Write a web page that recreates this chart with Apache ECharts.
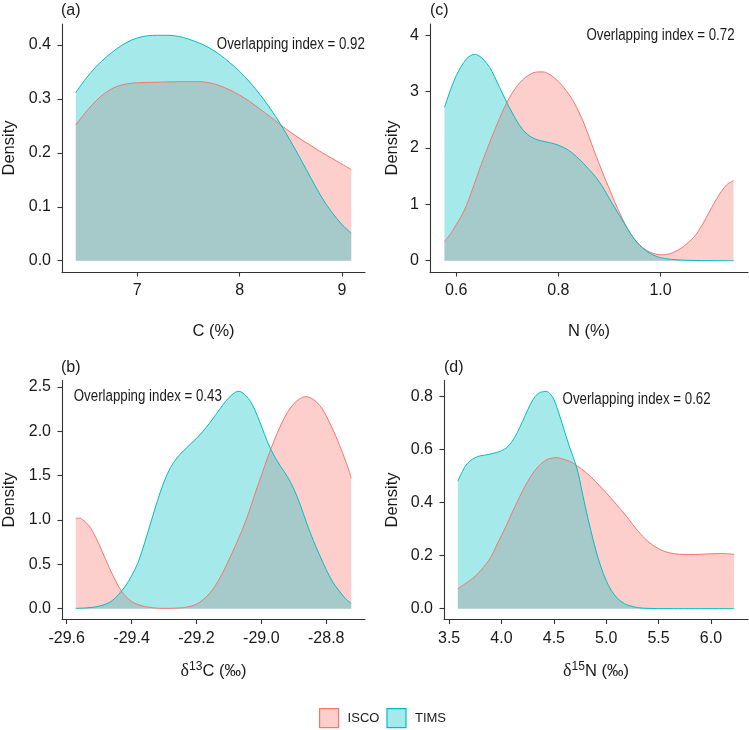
<!DOCTYPE html>
<html>
<head>
<meta charset="utf-8">
<script src="https://cdn.jsdelivr.net/npm/echarts@6/dist/echarts.min.js"></script>
<style>
html,body{margin:0;padding:0;background:#fff;}
#chart{width:749px;height:730px;}
</style>
</head>
<body>
<div id="chart"></div>
<script>
// ---------- DATA ----------
const seriesNames = ['ISCO', 'TIMS'];

// (a) C (%)
const A_ISCO = [[6.40,0.252],[6.5,0.276],[6.6,0.297],[6.7,0.313],[6.8,0.323],[6.9,0.328],[7.0,0.330],[7.2,0.331],[7.4,0.332],[7.6,0.332],[7.7,0.330],[7.8,0.325],[7.9,0.317],[8.0,0.307],[8.1,0.295],[8.2,0.281],[8.3,0.267],[8.4,0.252],[8.5,0.238],[8.6,0.225],[8.7,0.213],[8.8,0.201],[8.9,0.190],[9.0,0.179],[9.09,0.169]];
const A_TIMS = [[6.40,0.312],[6.5,0.338],[6.6,0.360],[6.7,0.378],[6.8,0.393],[6.9,0.405],[7.0,0.413],[7.1,0.417],[7.2,0.418],[7.3,0.418],[7.4,0.416],[7.5,0.411],[7.6,0.404],[7.7,0.395],[7.8,0.383],[7.9,0.368],[8.0,0.351],[8.1,0.331],[8.2,0.308],[8.3,0.282],[8.4,0.253],[8.5,0.221],[8.6,0.187],[8.7,0.152],[8.8,0.118],[8.9,0.090],[9.0,0.067],[9.09,0.051]];
const A_xTicks = [7, 8, 9];
const A_yTicks = [0.0, 0.1, 0.2, 0.3, 0.4];
const A_overlap = 0.92;

// (c) N (%)
const C_ISCO = [[0.577,0.34],[0.59,0.49],[0.60,0.64],[0.61,0.79],[0.62,0.98],[0.63,1.22],[0.64,1.48],[0.65,1.73],[0.66,1.97],[0.67,2.20],[0.68,2.42],[0.69,2.63],[0.70,2.82],[0.71,2.98],[0.72,3.11],[0.73,3.21],[0.74,3.28],[0.75,3.33],[0.76,3.35],[0.77,3.35],[0.78,3.32],[0.79,3.26],[0.80,3.18],[0.81,3.08],[0.82,2.96],[0.83,2.82],[0.84,2.64],[0.85,2.44],[0.86,2.20],[0.87,1.95],[0.88,1.72],[0.89,1.49],[0.90,1.27],[0.91,1.05],[0.92,0.85],[0.93,0.66],[0.94,0.50],[0.95,0.37],[0.96,0.27],[0.97,0.20],[0.98,0.15],[0.99,0.12],[1.00,0.105],[1.01,0.11],[1.02,0.13],[1.03,0.17],[1.04,0.22],[1.05,0.29],[1.06,0.37],[1.07,0.47],[1.08,0.61],[1.09,0.77],[1.10,0.94],[1.11,1.10],[1.12,1.24],[1.13,1.35],[1.143,1.42]];
const C_TIMS = [[0.577,2.72],[0.59,3.06],[0.60,3.28],[0.61,3.45],[0.62,3.58],[0.63,3.65],[0.636,3.66],[0.64,3.655],[0.65,3.60],[0.66,3.50],[0.67,3.36],[0.68,3.17],[0.69,2.98],[0.70,2.79],[0.71,2.62],[0.72,2.46],[0.73,2.33],[0.74,2.24],[0.75,2.18],[0.76,2.14],[0.77,2.12],[0.78,2.10],[0.79,2.08],[0.80,2.05],[0.81,2.01],[0.82,1.96],[0.83,1.89],[0.84,1.81],[0.85,1.72],[0.86,1.62],[0.87,1.52],[0.88,1.40],[0.89,1.26],[0.90,1.10],[0.91,0.95],[0.92,0.80],[0.93,0.65],[0.94,0.50],[0.95,0.37],[0.96,0.27],[0.97,0.19],[0.98,0.13],[0.99,0.085],[1.00,0.055],[1.02,0.025],[1.05,0.008],[1.08,0.003],[1.11,0.001],[1.143,0]];
const C_xTicks = [0.6, 0.8, 1.0];
const C_yTicks = [0, 1, 2, 3, 4];
const C_overlap = 0.72;

// (b) d13C
const B_ISCO = [[-29.572,1.02],[-29.56,1.02],[-29.55,1.00],[-29.53,0.93],[-29.51,0.80],[-29.49,0.64],[-29.47,0.47],[-29.45,0.32],[-29.43,0.19],[-29.41,0.11],[-29.39,0.06],[-29.36,0.025],[-29.33,0.008],[-29.30,0.003],[-29.27,0.005],[-29.24,0.012],[-29.22,0.025],[-29.20,0.05],[-29.18,0.10],[-29.16,0.17],[-29.14,0.27],[-29.12,0.40],[-29.10,0.55],[-29.08,0.71],[-29.06,0.88],[-29.04,1.07],[-29.02,1.29],[-29.00,1.50],[-28.98,1.71],[-28.96,1.90],[-28.94,2.07],[-28.92,2.21],[-28.90,2.31],[-28.88,2.37],[-28.865,2.39],[-28.85,2.38],[-28.83,2.33],[-28.81,2.24],[-28.79,2.10],[-28.77,1.94],[-28.75,1.76],[-28.73,1.56],[-28.723,1.47]];
const B_TIMS = [[-29.572,0.003],[-29.54,0.008],[-29.51,0.02],[-29.48,0.05],[-29.46,0.09],[-29.44,0.16],[-29.42,0.25],[-29.40,0.37],[-29.38,0.52],[-29.36,0.74],[-29.34,0.98],[-29.32,1.22],[-29.30,1.43],[-29.28,1.59],[-29.26,1.70],[-29.24,1.78],[-29.22,1.85],[-29.20,1.92],[-29.18,2.00],[-29.16,2.09],[-29.14,2.19],[-29.12,2.29],[-29.10,2.38],[-29.08,2.44],[-29.07,2.45],[-29.06,2.44],[-29.04,2.37],[-29.02,2.24],[-29.00,2.06],[-28.98,1.87],[-28.96,1.72],[-28.94,1.60],[-28.92,1.49],[-28.90,1.35],[-28.88,1.17],[-28.86,0.96],[-28.84,0.77],[-28.82,0.60],[-28.80,0.44],[-28.78,0.30],[-28.76,0.20],[-28.74,0.11],[-28.723,0.06]];
const B_xTicks = [-29.6, -29.4, -29.2, -29.0, -28.8];
const B_yTicks = [0.0, 0.5, 1.0, 1.5, 2.0, 2.5];
const B_overlap = 0.43;

// (d) d15N
const D_ISCO = [[3.583,0.075],[3.65,0.093],[3.70,0.107],[3.75,0.123],[3.80,0.143],[3.85,0.167],[3.90,0.195],[3.95,0.236],[4.00,0.276],[4.05,0.316],[4.10,0.361],[4.15,0.403],[4.20,0.443],[4.25,0.480],[4.30,0.511],[4.35,0.536],[4.40,0.554],[4.45,0.565],[4.52,0.570],[4.60,0.563],[4.65,0.556],[4.70,0.545],[4.80,0.516],[4.90,0.479],[5.00,0.437],[5.10,0.392],[5.20,0.345],[5.30,0.294],[5.40,0.253],[5.50,0.226],[5.60,0.211],[5.70,0.205],[5.80,0.204],[5.90,0.205],[6.00,0.207],[6.10,0.208],[6.222,0.205]];
const D_TIMS = [[3.583,0.481],[3.65,0.535],[3.70,0.558],[3.75,0.570],[3.80,0.577],[3.85,0.580],[3.90,0.584],[3.95,0.589],[4.00,0.596],[4.05,0.608],[4.10,0.630],[4.15,0.664],[4.20,0.706],[4.25,0.750],[4.30,0.788],[4.35,0.812],[4.40,0.819],[4.43,0.820],[4.47,0.808],[4.50,0.790],[4.55,0.735],[4.60,0.672],[4.65,0.610],[4.70,0.555],[4.73,0.515],[4.76,0.460],[4.80,0.385],[4.85,0.300],[4.90,0.222],[4.95,0.157],[5.00,0.106],[5.05,0.068],[5.10,0.042],[5.15,0.025],[5.20,0.014],[5.30,0.004],[5.40,0.001],[5.60,0.0],[6.222,0.0]];
const D_xTicks = [3.5, 4.0, 4.5, 5.0, 5.5, 6.0];
const D_yTicks = [0.0, 0.2, 0.4, 0.6, 0.8];
const D_overlap = 0.62;

// ---------- STYLE ----------
const colISCO = '#F8766D', colTIMS = '#00BFC4';
const fillISCO = 'rgba(248,118,109,0.35)', fillTIMS = 'rgba(0,191,196,0.35)';
const FONT = 'Liberation Sans, Arial, sans-serif';
const TXT = '#1a1a1a';
const AX = '#333333';

function ext(arrs) {
  let lo = Infinity, hi = -Infinity;
  arrs.forEach(a => a.forEach(p => { lo = Math.min(lo, p[0]); hi = Math.max(hi, p[0]); }));
  const e = (hi - lo) * 0.05;
  return [lo - e, hi + e];
}

const panels = [
  {key:'a', grid:{left:61, top:24, width:304, height:248}, isco:A_ISCO, tims:A_TIMS, xt:A_xTicks, yt:A_yTicks,
   xdec:0, ydec:1, ymin:-0.0209, ymax:0.4389, ann:[8.5,0.4], ov:A_overlap,
   xname:'C (%)', xrich:false, xgap:51, ygap:44},
  {key:'c', grid:{left:430, top:24, width:318, height:248}, isco:C_ISCO, tims:C_TIMS, xt:C_xTicks, yt:C_yTicks,
   xdec:1, ydec:0, ymin:-0.2, ymax:4.2, ann:[1.0,4.0], ov:C_overlap,
   xname:'N (%)', xrich:false, xgap:51, ygap:29},
  {key:'b', grid:{left:61, top:380.5, width:304, height:239}, isco:B_ISCO, tims:B_TIMS, xt:B_xTicks, yt:B_yTicks,
   xdec:1, ydec:1, ymin:-0.1225, ymax:2.5725, ann:[-29.35,2.39], ov:B_overlap,
   xname:'{g|δ}{s|13}{t|C (‰)}', xrich:true, xgap:41, ygap:44},
  {key:'d', grid:{left:444, top:380.5, width:304, height:239}, isco:D_ISCO, tims:D_TIMS, xt:D_xTicks, yt:D_yTicks,
   xdec:1, ydec:1, ymin:-0.041, ymax:0.861, ann:[5.29,0.79], ov:D_overlap,
   xname:'{g|δ}{s|15}{t|N (‰)}', xrich:true, xgap:41, ygap:43}
];

const grids = [], xAxes = [], yAxes = [], series = [];
panels.forEach((p, i) => {
  grids.push(Object.assign({containLabel:false}, p.grid));
  const [xmin, xmax] = ext([p.isco, p.tims]);
  xAxes.push({
    type:'value', gridIndex:i, min:xmin, max:xmax,
    name:p.xname, nameLocation:'middle', nameGap:p.xgap,
    nameTextStyle: p.xrich ? {
      rich:{
        g:{fontFamily:'Liberation Serif, DejaVu Serif, serif', fontSize:18, color:TXT, lineHeight:22},
        s:{fontFamily:FONT, fontSize:12, color:TXT, verticalAlign:'top', lineHeight:12},
        t:{fontFamily:FONT, fontSize:16.5, color:TXT, lineHeight:22}
      }
    } : {fontFamily:FONT, fontSize:16.5, color:TXT},
    splitLine:{show:false},
    axisLine:{show:true, onZero:false, lineStyle:{color:AX, width:1.1}},
    axisTick:{show:true, length:4.5, lineStyle:{color:AX, width:1.1}, customValues:p.xt},
    axisLabel:{fontFamily:FONT, fontSize:16, color:TXT, margin:11, customValues:p.xt,
      formatter: v => Number(v).toFixed(p.xdec)}
  });
  yAxes.push({
    type:'value', gridIndex:i, min:p.ymin, max:p.ymax,
    name:'Density', nameLocation:'middle', nameGap:p.ygap, nameRotate:90,
    nameTextStyle:{fontFamily:FONT, fontSize:16.5, color:TXT},
    splitLine:{show:false},
    axisLine:{show:true, onZero:false, lineStyle:{color:AX, width:1.1}},
    axisTick:{show:true, length:4.5, lineStyle:{color:AX, width:1.1}, customValues:p.yt},
    axisLabel:{fontFamily:FONT, fontSize:16, color:TXT, margin:11, customValues:p.yt,
      formatter: v => Number(v).toFixed(p.ydec)}
  });
  [[p.isco, 'ISCO', colISCO, fillISCO], [p.tims, 'TIMS', colTIMS, fillTIMS]].forEach(([d, nm, c, f]) => {
    series.push({
      type:'line', name:nm, xAxisIndex:i, yAxisIndex:i, data:d,
      smooth:0.35, symbol:'none', silent:true,
      lineStyle:{color:c, width:1}, itemStyle:{color:c},
      areaStyle:{color:f, opacity:1, origin:0}
    });
  });
});

const chart = echarts.init(document.getElementById('chart'), null, {renderer:'canvas'});
chart.setOption({
  animation:false,
  backgroundColor:'#ffffff',
  grid:grids, xAxis:xAxes, yAxis:yAxes, series:series,
  legend:{
    left:314, top:703, itemWidth:19, itemHeight:19, itemGap:7,
    textStyle:{fontFamily:FONT, fontSize:13, color:TXT, padding:[0,0,0,4]},
    data:[
      {name:'ISCO', icon:'rect', itemStyle:{color:fillISCO, borderColor:colISCO, borderWidth:1.2}},
      {name:'TIMS', icon:'rect', itemStyle:{color:fillTIMS, borderColor:colTIMS, borderWidth:1.2}}
    ]
  }
});

// panel tags and overlap annotations (annotation anchored at data coordinates)
const graphics = [];
panels.forEach((p, i) => {
  graphics.push({
    type:'text', x:p.grid.left, y:p.grid.top - 21,
    style:{text:'(' + p.key + ')', fontFamily:FONT, fontSize:16, fill:TXT, textVerticalAlign:'top'}
  });
  const pt = chart.convertToPixel({gridIndex:i}, p.ann);
  graphics.push({
    type:'text', x:pt[0], y:pt[1], scaleX:0.83, scaleY:1,
    style:{text:'Overlapping index = ' + p.ov.toFixed(2), fontFamily:FONT, fontSize:16, fill:TXT,
      textAlign:'center', textVerticalAlign:'middle'}
  });
});
chart.setOption({graphic:graphics});
</script>
</body>
</html>
